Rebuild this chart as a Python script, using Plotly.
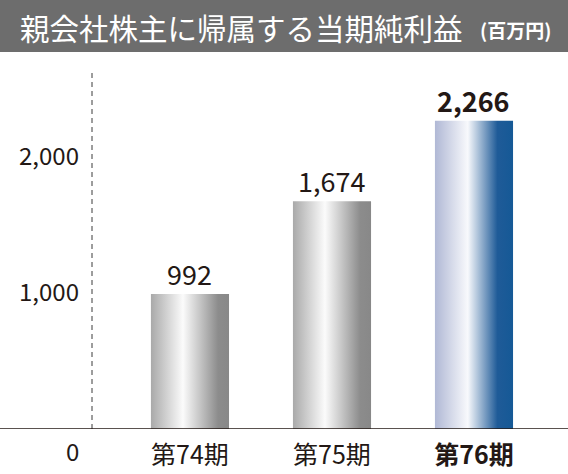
import plotly.graph_objects as go

# data
periods = ['第74期', '第75期', '第76期']
profit = [992, 1674, 2266]
value_labels = ['992', '1,674', '2,266']
y_ticks = [1000, 2000]
y_tick_labels = ['1,000', '2,000']

W, H = 568, 474
FONT = 'Noto Sans CJK JP'
INK = '#231815'

gray_scale = [[0, '#a9a9a9'], [0.41, '#fbfbfb'], [0.86, '#8c8c8c'], [1, '#888888']]
blue_scale = [[0, '#b0b8d5'], [0.42, '#f8f9fc'], [0.8, '#1f5b98'], [1, '#155996']]


def px_x(p):
    return p / W


def px_y(p):
    return 1 - p / H


def main():
    fig = go.Figure()
    half = 0.275
    for i, v in enumerate(profit):
        scale = blue_scale if i == len(profit) - 1 else gray_scale
        fig.add_trace(go.Scatter(
            x=[i - half, i + half, i + half, i - half, i - half],
            y=[0, 0, v, v, 0],
            mode='none', fill='toself',
            fillgradient=dict(type='horizontal', colorscale=scale),
            hoverinfo='skip',
        ))
        bold = i == len(profit) - 1
        fig.add_annotation(
            x=i, y=v, yanchor='bottom', showarrow=False, yshift=-1,
            text=f'<b>{value_labels[i]}</b>' if bold else value_labels[i],
            font=dict(family=FONT, size=27, color=INK),
        )

    ticktext = [p for p in periods[:-1]] + [f'<b>{periods[-1]}</b>']
    fig.update_xaxes(
        domain=[px_x(92), 1], range=[-0.69, 2.662],
        tickvals=list(range(len(periods))), ticktext=ticktext,
        tickfont=dict(family=FONT, size=25, color=INK),
        showgrid=False, zeroline=False, showline=False, ticks='',
        ticklabelstandoff=9,
    )
    fig.update_yaxes(
        domain=[1 - 429 / H, 1 - 70 / H], range=[0, 2640],
        tickvals=y_ticks, ticktext=y_tick_labels,
        tickfont=dict(family=FONT, size=24, color=INK),
        showgrid=False, zeroline=False, showline=False, ticks='',
        ticklabelstandoff=12,
    )

    # title bar
    fig.add_shape(type='rect', xref='paper', yref='paper',
                  x0=0, x1=1, y0=px_y(52), y1=1,
                  fillcolor='#6d6d6d', line_width=0, layer='below')
    fig.add_annotation(xref='paper', yref='paper', x=px_x(18), y=px_y(27),
                       xanchor='left', yanchor='middle', showarrow=False,
                       text='親会社株主に帰属する当期純利益',
                       font=dict(family=FONT, size=29.5, color='white'))
    fig.add_annotation(xref='paper', yref='paper', x=px_x(553), y=px_y(29),
                       xanchor='right', yanchor='middle', showarrow=False,
                       text='<b>(百万円)</b>',
                       font=dict(family=FONT, size=19, color='white'))

    # dashed axis line and baseline
    fig.add_shape(type='line', xref='paper', yref='paper',
                  x0=px_x(92), x1=px_x(92), y0=px_y(429), y1=px_y(70),
                  line=dict(color='#3a3a3a', width=1, dash='5px,4px'))
    fig.add_shape(type='line', xref='paper', yref='y',
                  x0=0, x1=1, y0=0, y1=0,
                  line=dict(color=INK, width=1.5))
    fig.add_annotation(xref='paper', yref='paper', x=px_x(72), y=px_y(450),
                       xanchor='center', yanchor='middle', showarrow=False,
                       text='0', font=dict(family=FONT, size=24, color=INK))

    fig.update_layout(
        width=W, height=H,
        margin=dict(l=0, r=0, t=0, b=0),
        paper_bgcolor='white', plot_bgcolor='white',
        showlegend=False, hovermode=False,
    )
    return fig


if __name__ == '__main__':
    figure = main()
    figure.write_html('out.html', config={'displayModeBar': False},
                      post_script="document.body.style.margin='0';")
